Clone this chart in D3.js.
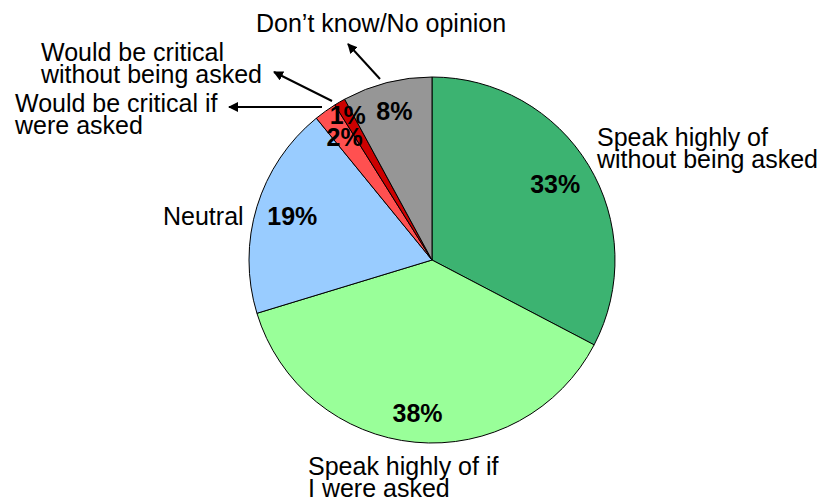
<!DOCTYPE html>
<html><head><meta charset="utf-8">
<script src="https://cdn.jsdelivr.net/npm/d3@7"></script>
<style>body{margin:0;background:#fff}svg{display:block}</style>
</head><body>
<svg id="chart" width="827" height="502"></svg>
<script>
const categories = ["Speak highly of without being asked","Speak highly of if I were asked","Neutral","Would be critical if were asked","Would be critical without being asked","Don\u2019t know/No opinion"];
const values = [33, 38, 19, 2, 1, 8];
const pctLabels = ["33%","38%","19%","2%","1%","8%"];
const colors = ["#3CB371","#99FF99","#99CCFF","#FF5050","#CC0000","#969696"];

const svg = d3.select("#chart");
const cx = 432, cy = 260, R = 183;
const g = svg.append("g").attr("transform", `translate(${cx},${cy})`);

const pie = d3.pie().sort(null).value(d => d)(values);
const arc = d3.arc().innerRadius(0).outerRadius(R);

g.selectAll("path.slice").data(pie).join("path")
  .attr("class","slice")
  .attr("d", arc)
  .attr("fill", (d,i) => colors[i])
  .attr("stroke", "#000").attr("stroke-width", 1);

const font = "'Liberation Sans', Arial, sans-serif";
// percentage labels
const labelR = [144, 155, 146, 150, 167, 153];
g.selectAll("text.pct").data(pie).join("text")
  .attr("class","pct")
  .attr("x", (d,i) => labelR[i]*Math.sin((d.startAngle+d.endAngle)/2))
  .attr("y", (d,i) => -labelR[i]*Math.cos((d.startAngle+d.endAngle)/2) + 8)
  .attr("text-anchor","middle")
  .attr("font-family", font).attr("font-weight","bold").attr("font-size", 25)
  .attr("fill","#000")
  .text((d,i) => pctLabels[i]);

// category labels
const catLabels = [
  {lines:["Speak highly of","without being asked"], x:597, y:146},
  {lines:["Speak highly of if","I were asked"], x:308, y:475},
  {lines:["Neutral"], x:163, y:225},
  {lines:["Would be critical if","were asked"], x:15, y:112},
  {lines:["Would be critical","without being asked"], x:41, y:61},
  {lines:["Don\u2019t know/No opinion"], x:256, y:32}
];
catLabels.forEach(c => {
  const t = svg.append("text").attr("font-family", font).attr("font-size", 25).attr("fill","#000");
  c.lines.forEach((l,k) => t.append("tspan").attr("x", c.x).attr("y", c.y + k*22).text(l));
});

// arrows
const defs = svg.append("defs");
defs.append("marker").attr("id","ah").attr("viewBox","0 0 10 10").attr("refX",9).attr("refY",5)
  .attr("markerWidth",5).attr("markerHeight",5).attr("orient","auto")
  .append("path").attr("d","M0,0 L10,5 L0,10 z").attr("fill","#000");
const arrows = [
  [380,79,348,44],
  [332,101,274,72],
  [322,107,229,107]
];
arrows.forEach(a => svg.append("line").attr("x1",a[0]).attr("y1",a[1]).attr("x2",a[2]).attr("y2",a[3])
  .attr("stroke","#000").attr("stroke-width",2).attr("marker-end","url(#ah)"));
</script>
</body></html>
